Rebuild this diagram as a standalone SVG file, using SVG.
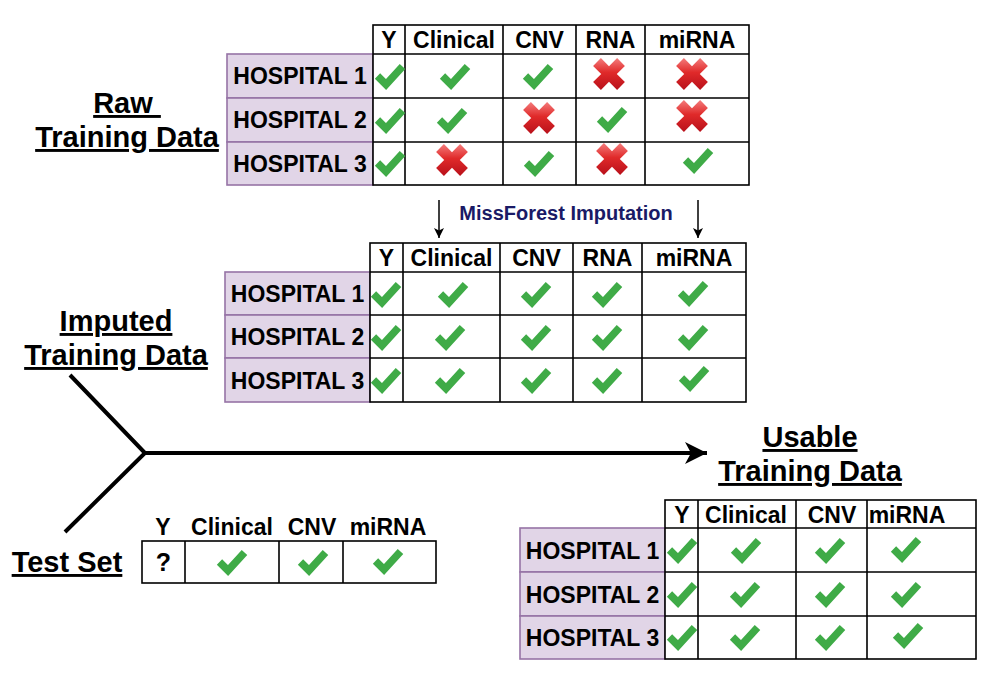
<svg xmlns="http://www.w3.org/2000/svg" xmlns:xlink="http://www.w3.org/1999/xlink" width="1000" height="685" viewBox="0 0 1000 685">
<style>
  .t { font-family: "Liberation Sans", Arial, sans-serif; font-weight: bold; fill: #000; }
  .hdr { font-size: 23px; text-anchor: middle; }
  .hosp { font-size: 23px; text-anchor: middle; }
  .title { font-size: 29px; text-anchor: middle; text-decoration: underline; }
  .grid { fill: #fff; stroke: #000; stroke-width: 1.6; }
  .gl { stroke: #000; stroke-width: 1.6; fill: none; }
  .pur { fill: #e1d5e7; stroke: #9673a6; stroke-width: 1.6; }
  .conn { stroke: #000; stroke-width: 4; fill: none; }
  .thin { stroke: #000; stroke-width: 1.5; fill: none; }
  .mf { font-family: "Liberation Sans", Arial, sans-serif; font-weight: bold; font-size: 20px; fill: #1a1a66; text-anchor: middle; }
</style>
<defs>
  <linearGradient id="redg" gradientUnits="userSpaceOnUse" x1="0" y1="-16" x2="0" y2="16">
    <stop offset="0" stop-color="#f47c7c"/>
    <stop offset="0.45" stop-color="#e02a2a"/>
    <stop offset="1" stop-color="#b8101a"/>
  </linearGradient>
  <polyline id="ok" points="-12.5,0 -4,8.5 12.5,-9.5" fill="none" stroke="#3fab47" stroke-width="7.5"/>
  <polygon id="no" points="-8.1,-15.9 0,-7.8 8.1,-15.9 15.9,-8.1 7.8,0 15.9,8.1 8.1,15.9 0,7.8 -8.1,15.9 -15.9,8.1 -7.8,0 -15.9,-8.1" fill="url(#redg)"/>
  <marker id="bigArrow" markerUnits="userSpaceOnUse" markerWidth="26" markerHeight="24" refX="22" refY="11" orient="auto" viewBox="0 0 26 22">
    <path d="M22,11 L0,0 L6,11 L0,22 Z" fill="#000"/>
  </marker>
  <marker id="smallArrow" markerUnits="userSpaceOnUse" markerWidth="12" markerHeight="12" refX="10" refY="5" orient="auto" viewBox="0 0 12 10">
    <path d="M10,5 L0,0 L2.5,5 L0,10 Z" fill="#000"/>
  </marker>
</defs>
<rect width="1000" height="685" fill="#fff"/>

<!-- connectors -->
<g id="connectors">
  <path class="conn" d="M70,375 L145,453 L65,532"/>
  <path class="conn" d="M145,453 H707" marker-end="url(#bigArrow)"/>
  <path class="thin" d="M439,200 V238" marker-end="url(#smallArrow)"/>
  <path class="thin" d="M698,200 V238" marker-end="url(#smallArrow)"/>
</g>

<!-- labels -->
<g id="label-raw">
  <text class="t title" x="127" y="113" xml:space="preserve">Raw </text>
  <text class="t title" x="127" y="147">Training Data</text>
</g>
<g id="label-imputed">
  <text class="t title" x="116" y="331">Imputed</text>
  <text class="t title" x="116" y="365">Training Data</text>
</g>
<g id="label-usable">
  <text class="t title" x="810" y="447">Usable</text>
  <text class="t title" x="810" y="481">Training Data</text>
</g>
<g id="label-test">
  <text class="t title" x="67" y="572">Test Set</text>
</g>
<g id="label-missforest">
  <text class="mf" x="566" y="220">MissForest Imputation</text>
</g>

<!-- Raw training data table -->
<g id="raw-table">
  <rect class="pur" x="227" y="54" width="146" height="44"/>
  <rect class="pur" x="227" y="98" width="146" height="44"/>
  <rect class="pur" x="227" y="142" width="146" height="43"/>
  <rect class="grid" x="373" y="25" width="376" height="160"/>
  <path class="gl" d="M373,54 H749 M373,98 H749 M373,142 H749 M405,25 V185 M503,25 V185 M576,25 V185 M645,25 V185"/>
  <text class="t hdr" x="389" y="48">Y</text>
  <text class="t hdr" x="454" y="48">Clinical</text>
  <text class="t hdr" x="539.5" y="48">CNV</text>
  <text class="t hdr" x="610.5" y="48">RNA</text>
  <text class="t hdr" x="697" y="48">miRNA</text>
  <text class="t hosp" x="300" y="84">HOSPITAL 1</text>
  <text class="t hosp" x="300" y="128">HOSPITAL 2</text>
  <text class="t hosp" x="300" y="171.5">HOSPITAL 3</text>
  <use href="#ok" x="390" y="76"/>
  <use href="#ok" x="455" y="76"/>
  <use href="#ok" x="538" y="76"/>
  <use href="#no" x="609" y="74"/>
  <use href="#no" x="692" y="74"/>
  <use href="#ok" x="390" y="120"/>
  <use href="#ok" x="452" y="120"/>
  <use href="#no" x="539" y="118"/>
  <use href="#ok" x="612" y="119"/>
  <use href="#no" x="692" y="116"/>
  <use href="#ok" x="390" y="163"/>
  <use href="#no" x="452" y="160"/>
  <use href="#ok" x="539" y="163"/>
  <use href="#no" x="612" y="159"/>
  <use href="#ok" x="698" y="160"/>
</g>

<!-- Imputed training data table -->
<g id="imputed-table">
  <rect class="pur" x="225" y="272" width="145" height="43"/>
  <rect class="pur" x="225" y="315" width="145" height="43"/>
  <rect class="pur" x="225" y="358" width="145" height="44"/>
  <rect class="grid" x="370" y="243" width="376" height="159"/>
  <path class="gl" d="M370,272 H746 M370,315 H746 M370,358 H746 M403,243 V402 M500,243 V402 M573,243 V402 M642,243 V402"/>
  <text class="t hdr" x="386.5" y="265.5">Y</text>
  <text class="t hdr" x="451.5" y="265.5">Clinical</text>
  <text class="t hdr" x="536.5" y="265.5">CNV</text>
  <text class="t hdr" x="607.5" y="265.5">RNA</text>
  <text class="t hdr" x="694" y="265.5">miRNA</text>
  <text class="t hosp" x="297.5" y="302">HOSPITAL 1</text>
  <text class="t hosp" x="297.5" y="345">HOSPITAL 2</text>
  <text class="t hosp" x="297.5" y="388.5">HOSPITAL 3</text>
  <use href="#ok" x="386" y="294"/>
  <use href="#ok" x="453" y="294"/>
  <use href="#ok" x="536" y="294"/>
  <use href="#ok" x="607" y="294"/>
  <use href="#ok" x="693" y="293"/>
  <use href="#ok" x="386" y="337"/>
  <use href="#ok" x="450" y="337"/>
  <use href="#ok" x="536" y="337"/>
  <use href="#ok" x="607" y="337"/>
  <use href="#ok" x="693" y="337"/>
  <use href="#ok" x="386" y="380"/>
  <use href="#ok" x="450" y="380"/>
  <use href="#ok" x="536" y="380"/>
  <use href="#ok" x="607" y="380"/>
  <use href="#ok" x="694" y="378"/>
</g>

<!-- Test set table -->
<g id="test-table">
  <text class="t hdr" x="163" y="535">Y</text>
  <text class="t hdr" x="232" y="535">Clinical</text>
  <text class="t hdr" x="312" y="535">CNV</text>
  <text class="t hdr" x="388" y="535">miRNA</text>
  <rect class="grid" x="142" y="541" width="294" height="42"/>
  <path class="gl" d="M185,541 V583 M279,541 V583 M343,541 V583"/>
  <text class="t" x="163.5" y="571" font-size="25" text-anchor="middle">?</text>
  <use href="#ok" x="232" y="562"/>
  <use href="#ok" x="313" y="562"/>
  <use href="#ok" x="388" y="561"/>
</g>

<!-- Usable training data table -->
<g id="usable-table">
  <rect class="pur" x="520" y="528" width="145" height="44"/>
  <rect class="pur" x="520" y="572" width="145" height="44"/>
  <rect class="pur" x="520" y="616" width="145" height="43"/>
  <rect class="grid" x="665" y="500" width="311" height="159"/>
  <path class="gl" d="M665,528 H976 M665,572 H976 M665,616 H976 M698,500 V659 M796,500 V659 M867,500 V659"/>
  <text class="t hdr" x="682" y="522.5">Y</text>
  <text class="t hdr" x="746" y="522.5">Clinical</text>
  <text class="t hdr" x="832" y="522.5">CNV</text>
  <text class="t hdr" x="907" y="522.5">miRNA</text>
  <text class="t hosp" x="592.5" y="558.5">HOSPITAL 1</text>
  <text class="t hosp" x="592.5" y="602.5">HOSPITAL 2</text>
  <text class="t hosp" x="592.5" y="646">HOSPITAL 3</text>
  <use href="#ok" x="682" y="550"/>
  <use href="#ok" x="746" y="550"/>
  <use href="#ok" x="830" y="550"/>
  <use href="#ok" x="906" y="549"/>
  <use href="#ok" x="682" y="594"/>
  <use href="#ok" x="745" y="594"/>
  <use href="#ok" x="830" y="594"/>
  <use href="#ok" x="906" y="594"/>
  <use href="#ok" x="682" y="637"/>
  <use href="#ok" x="745" y="637"/>
  <use href="#ok" x="830" y="637"/>
  <use href="#ok" x="908" y="635"/>
</g>
</svg>
